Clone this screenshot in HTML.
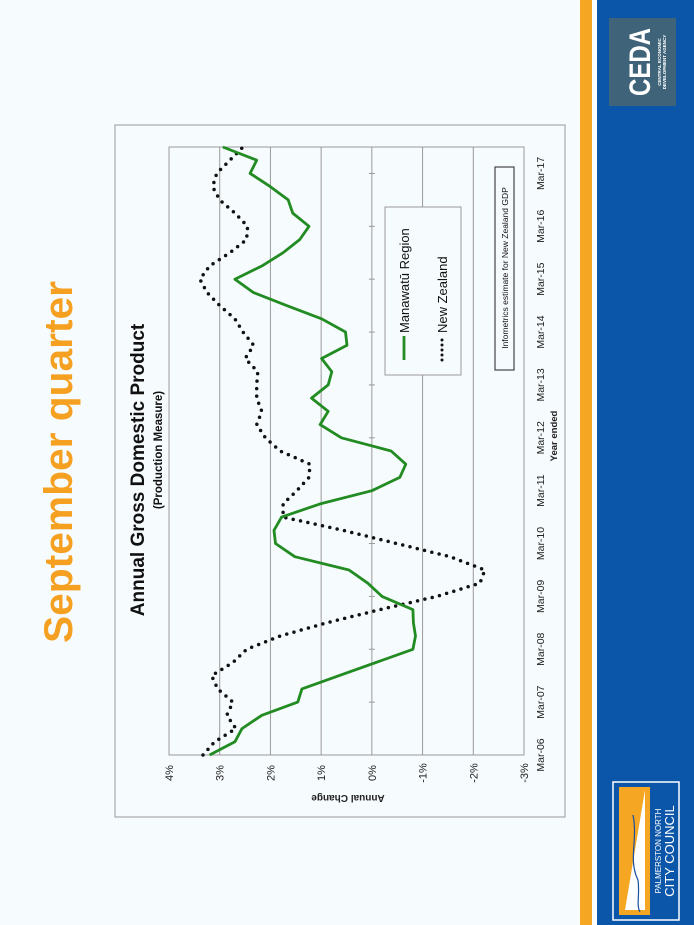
<!DOCTYPE html>
<html><head><meta charset="utf-8"><style>
html,body{margin:0;padding:0;background:#f6fbfd;}
svg{display:block;font-family:"Liberation Sans",sans-serif;}
</style></head><body>
<svg id="slide" width="694" height="925" viewBox="0 0 694 925">
<rect x="0" y="0" width="694" height="925" fill="#f6fbfd"/>
<text transform="translate(72,462) rotate(-90)" text-anchor="middle" font-size="40" font-weight="bold" fill="#f5a020" textLength="362" lengthAdjust="spacingAndGlyphs">September quarter</text>
<rect x="580" y="0" width="12" height="925" fill="#f5a623"/>
<rect x="592" y="0" width="5" height="925" fill="#ffffff"/>
<rect x="597" y="0" width="97" height="925" fill="#0b56a8"/>
<g>
<rect x="609" y="18" width="67" height="88" fill="#3f6479"/>
<text transform="translate(650,62) rotate(-90)" text-anchor="middle" font-size="30" font-weight="bold" fill="#fff" textLength="68" lengthAdjust="spacingAndGlyphs">CEDA</text>
<text transform="translate(661,62) rotate(-90)" text-anchor="middle" font-size="4.5" font-weight="bold" fill="#fff">CENTRAL ECONOMIC</text>
<text transform="translate(666,62) rotate(-90)" text-anchor="middle" font-size="4.5" font-weight="bold" fill="#fff">DEVELOPMENT AGENCY</text>
</g>
<g>
<rect x="613" y="782" width="66" height="138" fill="#0b56a8" stroke="#fff" stroke-width="1.5"/>
<rect x="619" y="787" width="31" height="128" fill="#f5a623"/>
<polygon points="645,790 645,910 625,910" fill="#fff"/>
<path d="M633,815 C638,840 628,860 638,880 C640,895 636,905 640,912" stroke="#1a4f9c" stroke-width="1.2" fill="none"/>
<text transform="translate(661,851) rotate(-90)" text-anchor="middle" font-size="8" fill="#fff">PALMERSTON NORTH</text>
<text transform="translate(674,851) rotate(-90)" text-anchor="middle" font-size="13" fill="#fff">CITY COUNCIL</text>
</g>
<rect x="115" y="125" width="450" height="692" fill="#f6fbfd" stroke="#a8a8a8" stroke-width="1.2"/>
<g id="chart"></g>
</svg>
<script>
const quarters = ["Mar-06","Jun-06","Sep-06","Dec-06","Mar-07","Jun-07","Sep-07","Dec-07","Mar-08","Jun-08","Sep-08","Dec-08","Mar-09","Jun-09","Sep-09","Dec-09","Mar-10","Jun-10","Sep-10","Dec-10","Mar-11","Jun-11","Sep-11","Dec-11","Mar-12","Jun-12","Sep-12","Dec-12","Mar-13","Jun-13","Sep-13","Dec-13","Mar-14","Jun-14","Sep-14","Dec-14","Mar-15","Jun-15","Sep-15","Dec-15","Mar-16","Jun-16","Sep-16","Dec-16","Mar-17","Jun-17","Sep-17"];
const manawatu = [3.2,2.7,2.56,2.17,1.46,1.38,0.65,-0.08,-0.81,-0.86,-0.82,-0.81,-0.2,0.08,0.45,1.52,1.9,1.93,1.78,1.02,0,-0.55,-0.67,-0.38,0.6,1.02,0.86,1.19,0.86,0.79,0.99,0.49,0.52,0.99,1.68,2.34,2.7,2.17,1.75,1.42,1.24,1.56,1.65,2.0,2.4,2.27,2.94];
const newZealand = [3.33,3.1,2.68,2.86,2.74,3.04,3.16,2.74,2.47,1.81,0.89,-0.16,-1.28,-2.13,-2.23,-1.54,-0.49,0.57,1.75,1.75,1.48,1.24,1.22,1.81,2.1,2.27,2.17,2.27,2.27,2.25,2.5,2.33,2.54,2.7,3.0,3.25,3.39,3.2,2.8,2.47,2.45,2.7,3.0,3.14,3.06,2.8,2.54];
const valueTicks = [4,3,2,1,0,-1,-2,-3];
const yearLabels = ["Mar-06","Mar-07","Mar-08","Mar-09","Mar-10","Mar-11","Mar-12","Mar-13","Mar-14","Mar-15","Mar-16","Mar-17"];

const NS="http://www.w3.org/2000/svg";
const g=document.getElementById('chart');
const L=169,R=524,T=147,B=755, vMax=4, vMin=-3;
const vx=v=>L+(vMax-v)/(vMax-vMin)*(R-L);
const qy=i=>B-i*(B-T)/(quarters.length-1);
function mk(tag,attrs,parent){const e=document.createElementNS(NS,tag);for(const k in attrs)e.setAttribute(k,attrs[k]);(parent||g).appendChild(e);return e;}

mk('rect',{x:L,y:T,width:R-L,height:B-T,fill:'none',stroke:'#9a9a9a','stroke-width':1});
valueTicks.forEach(v=>{
  const x=vx(v);
  const ln=mk('line',{x1:x,x2:x,y1:T,y2:B,stroke:'#9a9a9a','stroke-width':1});
  
  
  const t=mk('text',{transform:`translate(${x+4},${B+18}) rotate(-90)`,'text-anchor':'middle','font-size':11,fill:'#222'});
  t.textContent=v+'%';
  
  
});
yearLabels.forEach(lbl=>{
  const i=quarters.indexOf(lbl);
  const y=qy(i);
  mk('line',{x1:vx(0)-3,x2:vx(0)+3,y1:y,y2:y,stroke:'#9a9a9a'});
  const t=mk('text',{transform:`translate(${544},${y}) rotate(-90)`,'text-anchor':'middle','font-size':10.5,fill:'#222'});
  t.textContent=lbl;
  
  
});
let t=mk('text',{transform:'translate(557,436) rotate(-90)','text-anchor':'middle','font-size':9.5,'font-weight':'bold',fill:'#222'});
t.textContent='Year ended';


t=mk('text',{transform:'translate(348,795) rotate(180)','text-anchor':'middle','font-size':10,'font-weight':'bold',fill:'#222'});
t.textContent='Annual Change';


t=mk('text',{transform:'translate(144,470) rotate(-90)','text-anchor':'middle','font-size':19,'font-weight':'bold',fill:'#111'});
t.textContent='Annual Gross Domestic Product';


t=mk('text',{transform:'translate(162,450) rotate(-90)','text-anchor':'middle','font-size':11.5,'font-weight':'bold',fill:'#111'});
t.textContent='(Production Measure)';



const nzPts=newZealand.map((v,i)=>vx(v).toFixed(1)+','+qy(i).toFixed(1)).join(' ');
const nz=mk('polyline',{points:nzPts,fill:'none',stroke:'#111','stroke-width':3.5,'stroke-dasharray':'0 7.5','stroke-linecap':'round'});


const mwPts=manawatu.map((v,i)=>vx(v).toFixed(1)+','+qy(i).toFixed(1)).join(' ');
const mw=mk('polyline',{points:mwPts,fill:'none',stroke:'#228b22','stroke-width':2.8,'stroke-linejoin':'round'});



const lg=mk('g',{});


mk('rect',{x:385,y:207,width:76,height:168,fill:'#f6fbfd',stroke:'#999'},lg);
mk('line',{x1:404,x2:404,y1:360,y2:336,stroke:'#228b22','stroke-width':2.8},lg);
t=mk('text',{transform:'translate(409,333) rotate(-90)','font-size':13,fill:'#111'},lg);
t.textContent='Manawatū Region';


mk('line',{x1:442,x2:442,y1:360,y2:336,stroke:'#111','stroke-width':3,'stroke-dasharray':'0 5','stroke-linecap':'round'},lg);
t=mk('text',{transform:'translate(447,333) rotate(-90)','font-size':13,fill:'#111'},lg);
t.textContent='New Zealand';


const nb=mk('g',{});


mk('rect',{x:495,y:167,width:19,height:203,fill:'#f6fbfd',stroke:'#444','stroke-width':1.2},nb);
t=mk('text',{transform:'translate(508,268) rotate(-90)','text-anchor':'middle','font-size':8.5,fill:'#111'},nb);
t.textContent='Infometrics estimate for New Zealand GDP';
</script>
</body></html>
